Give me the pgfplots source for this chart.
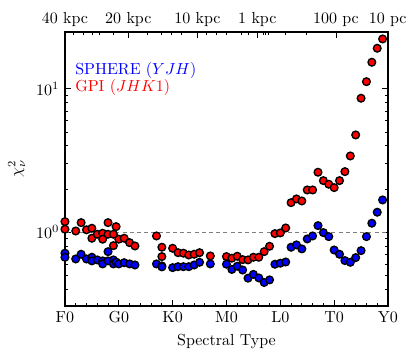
\documentclass[border=0pt]{standalone}
\usepackage{pgfplots}
\pgfplotsset{compat=1.18}

\pgfplotstableread{
x y
0 0.714
0 0.669
2 0.651
3 0.702
4 0.651
5 0.669
5 0.631
6 0.641
7 0.631
7 0.601
8 0.732
8 0.631
9 0.641
9 0.601
9.5 0.620
10 0.601
11 0.613
12 0.601
13 0.591
17 0.601
18 0.582
18 0.573
20 0.566
21 0.575
22 0.575
23 0.575
24 0.591
25 0.617
27 0.601
30 0.598
31 0.550
32 0.579
33 0.545
34 0.478
35 0.508
36 0.480
37 0.446
38 0.465
39 0.598
40 0.608
41 0.620
42 0.786
43 0.816
44 0.765
45 0.898
46 0.942
47 1.112
48 0.994
49 0.932
50 0.752
51 0.702
52 0.634
53 0.617
54 0.665
55 0.744
56 0.932
57 1.156
58 1.379
59 1.680
}\sphere

\pgfplotstableread{
x y
0 1.186
0 1.050
2 1.020
3 1.167
4 1.040
5 1.066
5 0.908
6 0.968
7 0.984
7 0.894
8 1.167
8 0.968
9 0.968
9 0.806
9.5 1.094
10 0.894
11 0.908
12 0.846
13 0.802
17 0.942
18 0.786
18 0.676
20 0.773
21 0.720
22 0.714
23 0.694
24 0.702
25 0.720
27 0.683
30 0.676
31 0.659
32 0.680
33 0.644
34 0.641
35 0.669
36 0.669
37 0.732
38 0.798
39 0.978
40 0.989
41 1.071
42 1.609
43 1.708
44 1.653
45 1.973
46 1.973
47 2.623
48 2.292
49 2.163
50 2.048
51 2.292
52 2.648
53 3.407
54 4.775
55 8.614
56 11.24
57 15.36
58 19.23
59 22.33
}\gpi

\begin{document}
\begin{tikzpicture}
\useasboundingbox (-40.6pt,-34.4pt) rectangle (219.4pt,191.2pt);
\begin{axis}[
  at={(0,0)}, anchor=south west,
  width=201.9pt, height=171.25pt, scale only axis,
  xmin=0, xmax=60, ymode=log, ymin=0.306, ymax=25,
  xtick={0,10,...,60}, xticklabels={F0,G0,K0,M0,L0,T0,Y0},
  minor x tick num=4, xtick pos=left,
  tick align=inside,
  major tick length=3.5pt, minor tick length=2pt,
  axis line style={line width=0.8pt},
  tick style={black, line width=0.6pt},
  xlabel={Spectral Type}, ylabel={$\chi^2_\nu$},
  mark size=2.4pt,
]
  \addplot[gray, dash pattern=on 2.5pt off 2pt, line width=0.8pt, forget plot] coordinates {(0,1)(60,1)};
  \addplot[only marks, mark=*, mark options={fill=red, draw=black, line width=0.85pt}] table {\gpi};
  \addplot[only marks, mark=*, mark options={fill=blue, draw=black, line width=0.85pt}] table {\sphere};
  \node[anchor=west, text=blue, inner sep=0pt] at (rel axis cs:0.031,0.861) {SPHERE ($YJH$)};
  \node[anchor=west, text=red, inner sep=0pt] at (rel axis cs:0.031,0.796) {GPI ($JHK1$)};
\end{axis}
\begin{axis}[
  at={(0,0)}, anchor=south west,
  width=201.9pt, height=171.25pt, scale only axis,
  xmin=0, xmax=60, ymin=0, ymax=1,
  hide y axis, axis x line*=top,
  axis line style={line width=0.8pt},
  tick style={black, line width=0.6pt},
  tick align=inside,
  major tick length=3.5pt, minor tick length=2pt,
  xtick={0,11.77,24.6,35.73,50.34,59.95},
  xticklabels={40 kpc,20 kpc,10 kpc,1 kpc,100 pc,10 pc},
  minor xtick={1.54,3.53,5.07,6.5,8.97,15.29,17.96,19.82,21.68,26.32,28.18,30.04,32.83,34.18,36.84,37.28,37.89,40.87,44.77},
]
\end{axis}
\end{tikzpicture}
\end{document}
